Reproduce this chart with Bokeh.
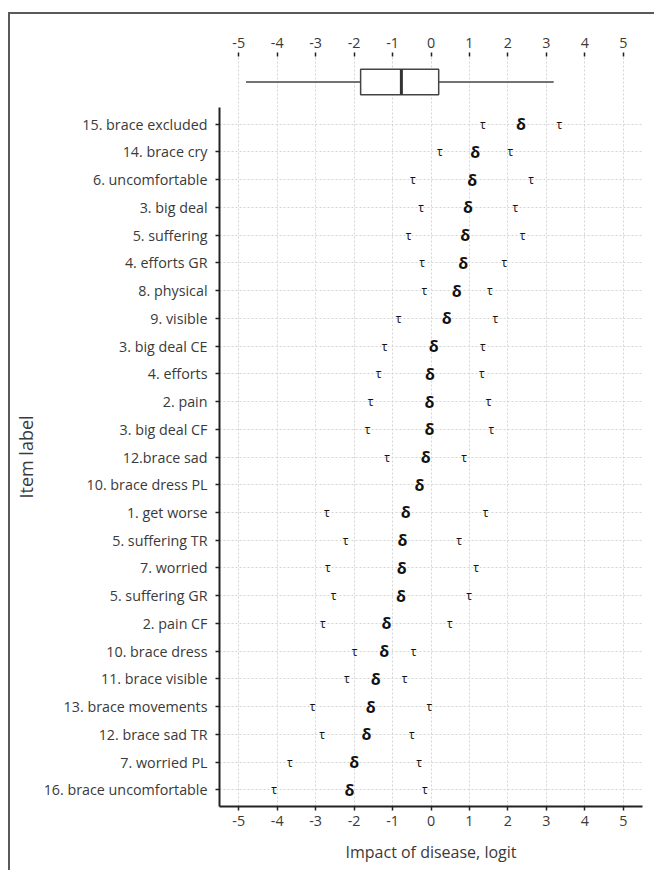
from bokeh.plotting import figure
from bokeh.models import Range1d, FixedTicker, ColumnDataSource
from bokeh.layouts import column
from bokeh.core.properties import value
from bokeh.embed import file_html
from bokeh.resources import INLINE

# ---- data (top row first) ----
items = [
    "15. brace excluded", "14. brace cry", "6. uncomfortable", "3. big deal",
    "5. suffering", "4. efforts GR", "8. physical", "9. visible",
    "3. big deal CE", "4. efforts", "2. pain", "3. big deal CF",
    "12.brace sad", "10. brace dress PL", "1. get worse", "5. suffering TR",
    "7. worried", "5. suffering GR", "2. pain CF", "10. brace dress",
    "11. brace visible", "13. brace movements", "12. brace sad TR",
    "7. worried PL", "16. brace uncomfortable",
]
delta = [2.34, 1.15, 1.07, 0.96, 0.89, 0.84, 0.67, 0.41, 0.07, -0.03, -0.04,
         -0.04, -0.14, -0.30, -0.66, -0.74, -0.76, -0.78, -1.16, -1.22, -1.44,
         -1.57, -1.68, -2.00, -2.12]
tau_low = [1.35, 0.23, -0.47, -0.26, -0.58, -0.23, -0.17, -0.84, -1.21, -1.36,
           -1.57, -1.65, -1.14, float("nan"), -2.71, -2.22, -2.68, -2.53, -2.81,
           -1.99, -2.19, -3.08, -2.83, -3.67, -4.08]
tau_high = [3.34, 2.06, 2.60, 2.19, 2.38, 1.91, 1.53, 1.67, 1.35, 1.32, 1.50,
            1.57, 0.86, float("nan"), 1.42, 0.73, 1.17, 0.99, 0.49, -0.45, -0.69,
            -0.04, -0.50, -0.31, -0.16]

# person distribution box plot summary
whisker_low = [-4.81]
q1 = [-1.83]
median = [-0.77]
q3 = [0.20]
whisker_high = [3.19]

x_ticks = [-5, -4, -3, -2, -1, 0, 1, 2, 3, 4, 5]
x_tick_labels = ["-5", "-4", "-3", "-2", "-1", "0", "1", "2", "3", "4", "5"]

FONT = "Open Sans"
TXT = "#3a3a3a"
GRID = "#d4d4d4"
LABEL_SIZE = "14.3px"

n = len(items)
ypos = list(range(n - 1, -1, -1))
x_over = {t: lab for t, lab in zip(x_ticks, x_tick_labels)}

xr = Range1d(-5.5, 5.5)

# ---- top box plot ----
top = figure(width=644, height=93, x_range=xr, y_range=Range1d(0, 1),
             x_axis_location="above", output_backend="svg",
             toolbar_location=None, min_border_left=207, min_border_right=12,
             min_border_top=42, min_border_bottom=0)
top.yaxis.visible = False
top.ygrid.visible = False
top.outline_line_color = None
top.xaxis.ticker = FixedTicker(ticks=x_ticks)
top.xaxis.major_label_overrides = x_over
top.xaxis.axis_line_color = None
top.xaxis.major_tick_out = 4
top.xaxis.major_tick_in = 0
top.xaxis.major_tick_line_color = "#222222"
top.xaxis.major_tick_line_width = 1.5
top.xaxis.minor_tick_line_color = None
top.xaxis.major_label_text_font = FONT
top.xaxis.major_label_text_font_size = LABEL_SIZE
top.xaxis.major_label_text_color = TXT
top.xaxis.major_label_standoff = 5
top.xgrid.ticker = FixedTicker(ticks=x_ticks)
top.xgrid.grid_line_color = GRID
top.xgrid.grid_line_dash = "2 2"

bsrc = ColumnDataSource(dict(wl=whisker_low, q1=q1, med=median, q3=q3, wh=whisker_high))
top.segment(x0="wl", x1="q1", y0=0.5, y1=0.5, source=bsrc, line_color="#444444", line_width=1.5)
top.segment(x0="q3", x1="wh", y0=0.5, y1=0.5, source=bsrc, line_color="#444444", line_width=1.5)
top.quad(left="q1", right="q3", bottom=0.25, top=0.75, source=bsrc,
         fill_color="white", line_color="#444444", line_width=1.5)
top.segment(x0="med", x1="med", y0=0.25, y1=0.75, source=bsrc, line_color="#333333", line_width=3)

# ---- main item map ----
main = figure(width=644, height=763, x_range=xr, y_range=Range1d(-0.6, n - 0.4),
              output_backend="svg", toolbar_location=None,
              min_border_left=207, min_border_right=12, min_border_top=0,
              min_border_bottom=64)
main.outline_line_color = None
for ax in (main.xaxis, main.yaxis):
    ax.axis_line_color = "#222222"
    ax.axis_line_width = 2
    ax.major_tick_out = 4
    ax.major_tick_in = 0
    ax.major_tick_line_color = "#222222"
    ax.major_tick_line_width = 1.5
    ax.minor_tick_line_color = None
    ax.major_label_text_font = FONT
    ax.major_label_text_font_size = LABEL_SIZE
    ax.major_label_text_color = TXT
    ax.axis_label_text_font = FONT
    ax.axis_label_text_font_style = "normal"
    ax.axis_label_text_color = TXT

main.xaxis.ticker = FixedTicker(ticks=x_ticks)
main.xaxis.major_label_overrides = x_over
main.xaxis.axis_label = "Impact of disease, logit"
main.xaxis.axis_label_text_font_size = "16px"
main.xaxis.major_label_standoff = 5
main.xaxis.axis_label_standoff = 12
main.yaxis.ticker = FixedTicker(ticks=ypos)
main.yaxis.major_label_overrides = {y: lab for y, lab in zip(ypos, items)}
main.yaxis.axis_label = "Item label"
main.yaxis.axis_label_text_font_size = "18px"
main.yaxis.major_label_standoff = 8
main.yaxis.axis_label_standoff = 3

for g in (main.xgrid, main.ygrid):
    g.grid_line_color = GRID
    g.grid_line_dash = "2 2"
main.xgrid.ticker = FixedTicker(ticks=x_ticks)
main.ygrid.ticker = FixedTicker(ticks=ypos)

src = ColumnDataSource(dict(y=ypos, d=delta, tl=tau_low, th=tau_high,
                            dl=["δ"] * n, tt=["τ"] * n))
main.text(x="tl", y="y", text="tt", source=src, text_align="center",
          text_baseline="middle", text_font=value(FONT), text_font_size="12px",
          text_color="#111111")
main.text(x="th", y="y", text="tt", source=src, text_align="center",
          text_baseline="middle", text_font=value(FONT), text_font_size="12px",
          text_color="#111111")
main.text(x="d", y="y", text="dl", source=src, text_align="center",
          text_baseline="middle", text_font=value(FONT), text_font_size="16px",
          text_font_style="bold", text_color="#111111")

layout = column(top, main, margin=(12, 0, 0, 8),
                styles={"border-top": "2px solid #5a5a5a",
                        "border-left": "2px solid #5a5a5a"})

open("out.html", "w").write(file_html(layout, INLINE))
